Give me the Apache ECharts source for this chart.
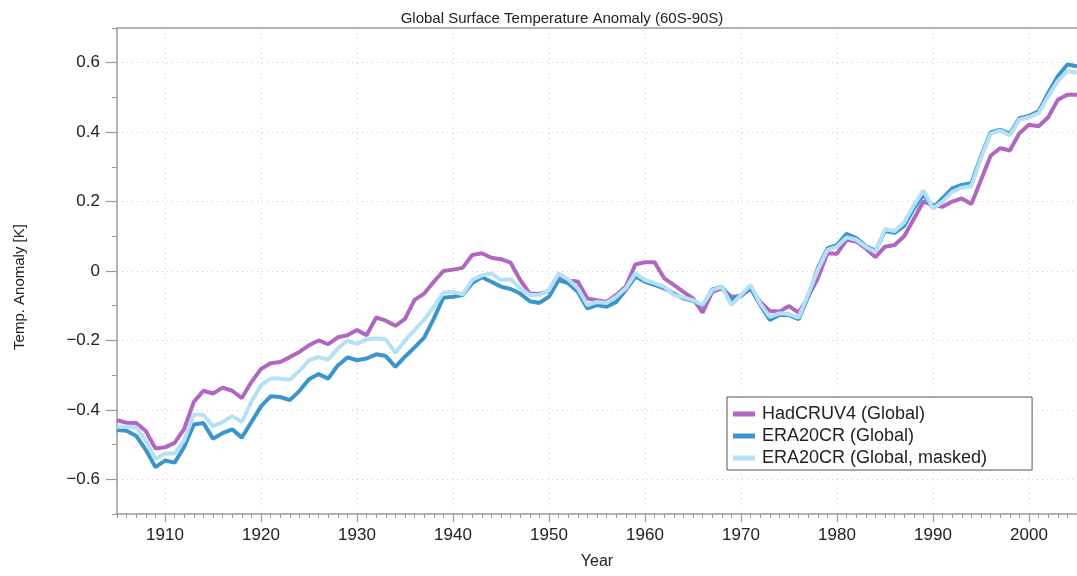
<!DOCTYPE html>
<html>
<head>
<meta charset="utf-8">
<script src="https://cdn.jsdelivr.net/npm/echarts@6/dist/echarts.min.js"></script>
<style>
html,body{margin:0;padding:0;background:#fff;}
#chart{width:1077px;height:576px;}
</style>
</head>
<body>
<div id="chart"></div>
<script>
const titleText = 'Global Surface Temperature Anomaly (60S-90S)';
const xName = 'Year';
const yName = 'Temp. Anomaly [K]';
const seriesNames = ['HadCRUV4 (Global)', 'ERA20CR (Global)', 'ERA20CR (Global, masked)'];

const years = [
1905,1906,1907,1908,1909,1910,1911,1912,1913,1914,
1915,1916,1917,1918,1919,1920,1921,1922,1923,1924,
1925,1926,1927,1928,1929,1930,1931,1932,1933,1934,
1935,1936,1937,1938,1939,1940,1941,1942,1943,1944,
1945,1946,1947,1948,1949,1950,1951,1952,1953,1954,
1955,1956,1957,1958,1959,1960,1961,1962,1963,1964,
1965,1966,1967,1968,1969,1970,1971,1972,1973,1974,
1975,1976,1977,1978,1979,1980,1981,1982,1983,1984,
1985,1986,1987,1988,1989,1990,1991,1992,1993,1994,
1995,1996,1997,1998,1999,2000,2001,2002,2003,2004,2005];

const hadcru = [
-0.430,-0.437,-0.438,-0.461,-0.511,-0.508,-0.495,-0.455,-0.377,-0.345,
-0.353,-0.336,-0.345,-0.366,-0.320,-0.282,-0.266,-0.262,-0.248,-0.233,
-0.214,-0.200,-0.211,-0.191,-0.185,-0.170,-0.185,-0.134,-0.143,-0.158,
-0.138,-0.083,-0.065,-0.031,0.000,0.004,0.009,0.046,0.051,0.038,
0.034,0.024,-0.026,-0.065,-0.066,-0.057,-0.021,-0.028,-0.030,-0.079,
-0.084,-0.089,-0.069,-0.045,0.019,0.025,0.025,-0.021,-0.040,-0.060,
-0.079,-0.120,-0.060,-0.050,-0.074,-0.072,-0.050,-0.089,-0.115,-0.117,
-0.101,-0.120,-0.074,-0.021,0.051,0.050,0.090,0.085,0.065,0.040,
0.070,0.075,0.100,0.150,0.200,0.190,0.185,0.200,0.209,0.193,
0.262,0.332,0.354,0.347,0.397,0.421,0.417,0.443,0.493,0.508,0.508];

const era = [
-0.458,-0.460,-0.475,-0.515,-0.565,-0.546,-0.552,-0.507,-0.442,-0.438,
-0.483,-0.467,-0.456,-0.480,-0.435,-0.390,-0.361,-0.363,-0.372,-0.346,
-0.312,-0.297,-0.310,-0.272,-0.249,-0.257,-0.252,-0.240,-0.245,-0.276,
-0.247,-0.220,-0.192,-0.137,-0.077,-0.074,-0.069,-0.035,-0.018,-0.031,
-0.045,-0.052,-0.065,-0.087,-0.092,-0.074,-0.026,-0.035,-0.060,-0.108,
-0.098,-0.103,-0.089,-0.055,-0.016,-0.031,-0.040,-0.050,-0.065,-0.079,
-0.086,-0.101,-0.053,-0.045,-0.084,-0.069,-0.050,-0.098,-0.141,-0.127,
-0.127,-0.139,-0.074,0.008,0.065,0.075,0.107,0.095,0.072,0.058,
0.115,0.110,0.130,0.180,0.220,0.182,0.210,0.238,0.248,0.253,
0.330,0.399,0.407,0.395,0.440,0.447,0.460,0.513,0.561,0.595,0.590];

const eraMasked = [
-0.449,-0.449,-0.451,-0.488,-0.541,-0.526,-0.526,-0.488,-0.413,-0.415,
-0.447,-0.435,-0.418,-0.435,-0.377,-0.329,-0.310,-0.310,-0.313,-0.288,
-0.257,-0.248,-0.255,-0.223,-0.201,-0.210,-0.197,-0.194,-0.197,-0.236,
-0.200,-0.170,-0.140,-0.103,-0.062,-0.060,-0.067,-0.026,-0.012,-0.007,
-0.026,-0.024,-0.050,-0.069,-0.069,-0.055,-0.007,-0.024,-0.050,-0.098,
-0.089,-0.092,-0.074,-0.050,-0.007,-0.026,-0.035,-0.045,-0.069,-0.076,
-0.084,-0.098,-0.055,-0.045,-0.098,-0.069,-0.040,-0.094,-0.132,-0.122,
-0.124,-0.134,-0.067,0.003,0.061,0.070,0.097,0.090,0.070,0.055,
0.120,0.115,0.140,0.190,0.232,0.180,0.200,0.228,0.240,0.245,
0.325,0.395,0.405,0.390,0.436,0.443,0.455,0.503,0.547,0.576,0.571];

const xMajorTicks = [1910,1920,1930,1940,1950,1960,1970,1980,1990,2000];
const yMajorTicks = [-0.6,-0.4,-0.2,0,0.2,0.4,0.6];

const colors = ['#b166c2', '#3a95cd', '#b6e0f4'];
const FONT = "'Liberation Sans', Arial, Helvetica, sans-serif";
const axisGray = '#9a9a9a';

function pairs(vals){ return years.map((y,i)=>[y, vals[i]]); }

const chart = echarts.init(document.getElementById('chart'), null, {renderer:'canvas'});

const option = {
  animation: false,
  backgroundColor: '#fff',
  textStyle: {fontFamily: FONT},
  title: {
    text: titleText,
    left: 557, top: 6, textAlign: 'center',
    textStyle: {fontFamily: FONT, fontSize: 15, fontWeight: 'normal', color: '#222'}
  },
  legend: {
    orient: 'vertical',
    left: 727, top: 397,
    padding: [8, 45, 3, 6],
    itemGap: 4,
    icon: 'rect',
    itemWidth: 22, itemHeight: 5,
    borderColor: '#555', borderWidth: 1,
    backgroundColor: '#fff',
    textStyle: {fontFamily: FONT, fontSize: 18, color: '#222', padding: [0,0,0,2]},
    data: seriesNames
  },
  grid: {left: 117, right: 0, top: 28, bottom: 62, containLabel: false},
  xAxis: [
    {
      type: 'value', min: 1905, max: 2005, interval: 1, position: 'bottom',
      axisLine: {show: true, onZero: false, lineStyle: {color: axisGray, width: 1.5}},
      axisTick: {show: true, length: 4, lineStyle: {color: axisGray, width: 1}},
      axisLabel: {show: false},
      splitLine: {show: false}
    },
    {
      type: 'value', min: 1905, max: 2005, position: 'bottom',
      name: xName, nameLocation: 'middle', nameGap: 40,
      nameTextStyle: {fontFamily: FONT, fontSize: 16, color: '#222'},
      axisLine: {show: false, onZero: false},
      axisTick: {show: true, customValues: xMajorTicks, length: 8, lineStyle: {color: axisGray, width: 1.2}},
      axisLabel: {show: true, customValues: xMajorTicks, margin: 13, fontFamily: FONT, fontSize: 17, color: '#222',
        formatter: v => String(v)},
      splitLine: {show: true, lineStyle: {color: '#cfcfcf', type: [1, 4], width: 1}}
    },
    {
      type: 'value', min: 1905, max: 2005, position: 'top',
      axisLine: {show: true, onZero: false, lineStyle: {color: axisGray, width: 1.5}},
      axisTick: {show: false}, axisLabel: {show: false}, splitLine: {show: false}
    }
  ],
  yAxis: [
    {
      type: 'value', min: -0.7, max: 0.7, interval: 0.1, position: 'left',
      axisLine: {show: true, onZero: false, lineStyle: {color: axisGray, width: 1.5}},
      axisTick: {show: true, length: 5, lineStyle: {color: axisGray, width: 1}},
      axisLabel: {show: false},
      splitLine: {show: false}
    },
    {
      type: 'value', min: -0.7, max: 0.7, position: 'left',
      name: yName, nameLocation: 'middle', nameGap: 90, nameRotate: 90,
      nameTextStyle: {fontFamily: FONT, fontSize: 15, color: '#222', padding: [0, 32, 0, 0]},
      axisLine: {show: false, onZero: false},
      axisTick: {show: true, customValues: yMajorTicks, length: 11, lineStyle: {color: axisGray, width: 1.2}},
      axisLabel: {show: true, customValues: yMajorTicks, margin: 17, fontFamily: FONT, fontSize: 17, color: '#222',
        formatter: v => (Math.abs(v) < 1e-9 ? '0' : (v < 0 ? '\u2212' + Math.abs(v).toFixed(1) : v.toFixed(1)))},
      splitLine: {show: true, lineStyle: {color: '#cfcfcf', type: [1, 4], width: 1}}
    }
  ],
  series: [
    {name: seriesNames[0], type: 'line', xAxisIndex: 0, yAxisIndex: 0, data: pairs(hadcru),
     symbol: 'none', showSymbol: false, color: colors[0], lineStyle: {width: 4, color: colors[0]}, z: 3},
    {name: seriesNames[1], type: 'line', xAxisIndex: 0, yAxisIndex: 0, data: pairs(era),
     symbol: 'none', showSymbol: false, color: colors[1], lineStyle: {width: 4, color: colors[1]}, z: 4},
    {name: seriesNames[2], type: 'line', xAxisIndex: 0, yAxisIndex: 0, data: pairs(eraMasked),
     symbol: 'none', showSymbol: false, color: colors[2], lineStyle: {width: 4, color: colors[2]}, z: 5}
  ]
};
chart.setOption(option);
</script>
</body>
</html>
